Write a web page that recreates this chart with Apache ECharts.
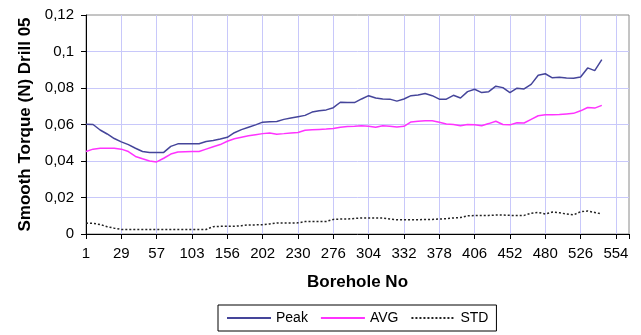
<!DOCTYPE html>
<html>
<head>
<meta charset="utf-8">
<script src="https://cdn.jsdelivr.net/npm/echarts@6/dist/echarts.min.js"></script>
<style>html,body{margin:0;padding:0;background:#fff}#c{width:641px;height:335px}</style>
</head>
<body>
<div id="c"></div>
<script>
// Tick labels on the borehole axis (one per grid column)
const tickLabels = ['1','29','57','103','156','202','230','276','304','332','378','406','452','480','526','554'];
// Samples are taken every 0.2 of a tick column
const sampleStep = 0.2;
const peak = [
  0.0602,0.0600,0.0570,0.0548,0.0523,0.0505,0.0490,0.0470,0.0452,0.0447,
  0.0447,0.0447,0.0480,0.0494,0.0494,0.0494,0.0495,0.0507,0.0512,0.0520,
  0.0530,0.0555,0.0572,0.0585,0.0598,0.0613,0.0615,0.0616,0.0628,0.0636,
  0.0643,0.0650,0.0668,0.0675,0.0680,0.0692,0.0722,0.0720,0.0720,0.0740,
  0.0758,0.0745,0.0740,0.0739,0.0728,0.0740,0.0758,0.0762,0.0770,0.0758,
  0.0739,0.0739,0.0760,0.0745,0.0780,0.0793,0.0775,0.0780,0.0810,0.0802,
  0.0775,0.0799,0.0795,0.0820,0.0870,0.0878,0.0856,0.0859,0.0855,0.0854,
  0.0860,0.0910,0.0895,0.0955
];
const avg = [
  0.0452,0.0465,0.0470,0.0470,0.0470,0.0465,0.0452,0.0425,0.0412,0.0400,
  0.0395,0.0415,0.0438,0.0449,0.0451,0.0452,0.0452,0.0465,0.0478,0.0490,
  0.0508,0.0522,0.0530,0.0538,0.0544,0.0550,0.0553,0.0547,0.0550,0.0554,
  0.0556,0.0568,0.0571,0.0573,0.0575,0.0578,0.0585,0.0589,0.0590,0.0593,
  0.0590,0.0585,0.0593,0.0590,0.0586,0.0590,0.0614,0.0618,0.0620,0.0620,
  0.0612,0.0603,0.0600,0.0593,0.0600,0.0598,0.0593,0.0605,0.0618,0.0600,
  0.0598,0.0610,0.0608,0.0628,0.0648,0.0653,0.0653,0.0655,0.0658,0.0661,
  0.0675,0.0693,0.0690,0.0705
];
const std = [
  0.0060,0.0058,0.0052,0.0040,0.0032,0.0025,0.0025,0.0025,0.0025,0.0025,
  0.0025,0.0025,0.0025,0.0025,0.0025,0.0025,0.0025,0.0025,0.0040,0.0042,
  0.0042,0.0043,0.0045,0.0050,0.0050,0.0051,0.0055,0.0060,0.0060,0.0060,
  0.0061,0.0068,0.0069,0.0069,0.0069,0.0080,0.0082,0.0082,0.0085,0.0088,
  0.0088,0.0088,0.0088,0.0082,0.0078,0.0078,0.0078,0.0078,0.0080,0.0080,
  0.0082,0.0084,0.0088,0.0090,0.0100,0.0101,0.0102,0.0102,0.0104,0.0104,
  0.0102,0.0102,0.0102,0.0114,0.0118,0.0110,0.0120,0.0116,0.0110,0.0105,
  0.0122,0.0126,0.0118,0.0110
];

const toPairs = arr => arr.map((v, i) => [i * sampleStep, v]);
const FONT = 'Liberation Sans, Arial, sans-serif';

const chart = echarts.init(document.getElementById('c'), null, {renderer: 'canvas'});
chart.setOption({
  animation: false,
  backgroundColor: '#fff',
  grid: {left: 86, right: 12, top: 15, bottom: 101, show: true, borderColor: '#8a8a8a', borderWidth: 1, backgroundColor: 'transparent'},
  xAxis: {
    type: 'value', min: 0, max: 15.37, interval: 1,
    name: 'Borehole No', nameLocation: 'middle', nameGap: 40,
    nameTextStyle: {fontFamily: FONT, fontSize: 17, fontWeight: 'bold', color: '#000'},
    axisLine: {show: true, onZero: false, lineStyle: {color: '#000', width: 1}},
    axisTick: {show: true, length: 5, lineStyle: {color: '#000'}},
    axisLabel: {fontFamily: FONT, fontSize: 15, color: '#000', margin: 12,
      formatter: v => (Number.isInteger(v) && tickLabels[v] !== undefined) ? tickLabels[v] : ''},
    splitLine: {show: true, showMaxLine: false, lineStyle: {color: '#c8c8fa', width: 1}}
  },
  yAxis: {
    type: 'value', min: 0, max: 0.12, interval: 0.02,
    name: 'Smooth Torque (N) Drill 05', nameLocation: 'middle', nameGap: 52,
    nameTextStyle: {fontFamily: FONT, fontSize: 17, fontWeight: 'bold', color: '#000'},
    axisLine: {show: true, lineStyle: {color: '#000', width: 1}},
    axisTick: {show: true, length: 5, lineStyle: {color: '#000'}},
    axisLabel: {fontFamily: FONT, fontSize: 15, color: '#000', margin: 12,
      formatter: v => String(Math.round(v * 100) / 100).replace('.', ',')},
    splitLine: {show: true, showMaxLine: false, lineStyle: {color: '#c8c8fa', width: 1}}
  },
  legend: {
    left: 218, top: 305,
    orient: 'horizontal',
    itemWidth: 44, itemHeight: 12, itemGap: 12,
    padding: [6, 8],
    borderColor: '#000', borderWidth: 1,
    itemStyle: {opacity: 0},
    textStyle: {fontFamily: FONT, fontSize: 14, color: '#000'},
    data: ['Peak', 'AVG', 'STD']
  },
  series: [
    {name: 'Peak', type: 'line', data: toPairs(peak), showSymbol: false, symbol: 'none',
      lineStyle: {color: '#45459a', width: 1.5}, itemStyle: {color: '#45459a'}},
    {name: 'AVG', type: 'line', data: toPairs(avg), showSymbol: false, symbol: 'none',
      lineStyle: {color: '#ff33ff', width: 1.5}, itemStyle: {color: '#ff33ff'}},
    {name: 'STD', type: 'line', data: toPairs(std), showSymbol: false, symbol: 'none',
      lineStyle: {color: '#222', width: 1.5, type: [2, 2]}, itemStyle: {color: '#222'}}
  ]
});
</script>
</body>
</html>
